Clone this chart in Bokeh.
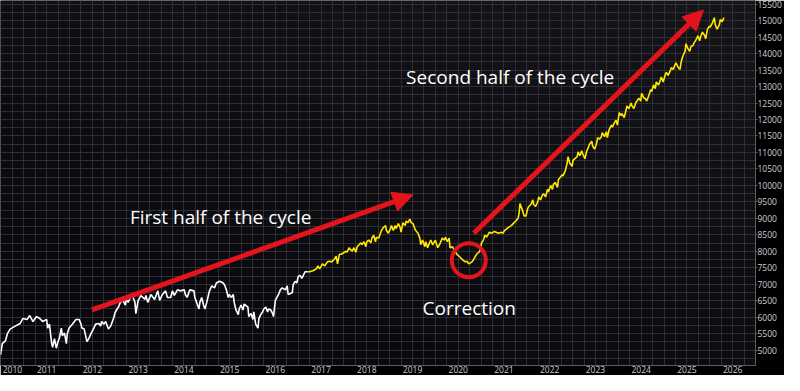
import numpy as np
from bokeh.plotting import figure
from bokeh.models import FixedTicker, Arrow, NormalHead, Label, Range1d
from bokeh.embed import file_html
from bokeh.resources import INLINE

# ---- data ----
white_year = [2009.99, 2010.03, 2010.10, 2010.14, 2010.20, 2010.31, 2010.42, 2010.48, 2010.57, 2010.63,
              2010.70, 2010.78, 2010.85, 2010.91, 2011.00, 2011.02, 2011.06, 2011.11, 2011.13, 2011.17,
              2011.21, 2011.24, 2011.28, 2011.32, 2011.34, 2011.39, 2011.43, 2011.45, 2011.49, 2011.56,
              2011.64, 2011.71, 2011.75, 2011.77, 2011.82, 2011.88, 2011.92, 2011.97, 2012.03, 2012.07,
              2012.14, 2012.18, 2012.20, 2012.25, 2012.29, 2012.31, 2012.35, 2012.40, 2012.46, 2012.50,
              2012.57, 2012.61, 2012.67, 2012.72, 2012.74, 2012.78, 2012.85, 2012.89, 2012.93, 2012.95,
              2013.00, 2013.04, 2013.06, 2013.15, 2013.17, 2013.21, 2013.28, 2013.36, 2013.43, 2013.47,
              2013.53, 2013.60, 2013.64, 2013.71, 2013.75, 2013.79, 2013.86, 2013.92, 2014.01, 2014.03,
              2014.07, 2014.13, 2014.22, 2014.24, 2014.33, 2014.35, 2014.39, 2014.43, 2014.46, 2014.50,
              2014.54, 2014.56, 2014.61, 2014.67, 2014.71, 2014.78, 2014.86, 2014.89, 2014.93, 2014.97,
              2014.99, 2015.04, 2015.08, 2015.10, 2015.14, 2015.19, 2015.21, 2015.25, 2015.29, 2015.32,
              2015.40, 2015.42, 2015.47, 2015.51, 2015.53, 2015.57, 2015.62, 2015.64, 2015.68, 2015.72,
              2015.75, 2015.79, 2015.83, 2015.85, 2015.90, 2015.94, 2015.96, 2016.00, 2016.07, 2016.11,
              2016.15, 2016.22, 2016.26, 2016.28, 2016.37, 2016.39, 2016.43, 2016.47, 2016.50, 2016.54,
              2016.58, 2016.65, 2016.71]
white_value = [4860, 5200, 5290, 5500, 5640, 5730, 5810, 5960, 5930, 6050,
               5870, 6020, 5960, 5870, 5930, 5670, 5790, 5200, 5090, 5350,
               5060, 5230, 5380, 5670, 5440, 5520, 5200, 5500, 5670, 5790,
               5930, 5930, 5790, 5670, 5640, 5260, 5350, 5500, 5670, 5790,
               5810, 5730, 5870, 5790, 5870, 5790, 5640, 5730, 5960, 6160,
               6310, 6450, 6510, 6370, 6540, 6450, 6660, 6600, 6450, 6110,
               6510, 6600, 6660, 6540, 6660, 6450, 6690, 6540, 6800, 6510,
               6690, 6800, 6600, 6600, 6800, 6660, 6830, 6800, 6830, 6690,
               6600, 6830, 6800, 6600, 6250, 6450, 6600, 6370, 6250, 6450,
               6690, 6800, 6950, 6890, 7040, 7090, 7040, 6980, 6830, 6600,
               6690, 6600, 6690, 6450, 6220, 6080, 6250, 6370, 6220, 6400,
               6310, 6020, 6110, 5930, 6160, 5790, 5670, 5960, 6080, 6160,
               6250, 6310, 6160, 6250, 6220, 6110, 6020, 6510, 6690, 6830,
               6890, 6830, 6950, 6690, 6740, 6980, 7090, 7040, 7240, 7270,
               7180, 7380, 7380]

yellow_year = [2016.71, 2016.75, 2016.82, 2016.90, 2016.93, 2016.97, 2017.03, 2017.08, 2017.14, 2017.18,
               2017.23, 2017.29, 2017.33, 2017.36, 2017.40, 2017.44, 2017.51, 2017.55, 2017.57, 2017.61,
               2017.68, 2017.72, 2017.76, 2017.79, 2017.87, 2017.89, 2017.94, 2017.98, 2018.00, 2018.04,
               2018.09, 2018.11, 2018.15, 2018.19, 2018.21, 2018.26, 2018.32, 2018.36, 2018.41, 2018.43,
               2018.47, 2018.52, 2018.54, 2018.58, 2018.62, 2018.64, 2018.69, 2018.73, 2018.75, 2018.79,
               2018.84, 2018.86, 2018.90, 2018.94, 2018.97, 2019.01, 2019.05, 2019.07, 2019.12, 2019.16,
               2019.18, 2019.22, 2019.27, 2019.29, 2019.33, 2019.37, 2019.40, 2019.44, 2019.50, 2019.55,
               2019.59, 2019.65, 2019.70, 2019.72, 2019.76, 2019.80, 2019.82, 2019.87, 2019.93, 2019.97,
               2020.02, 2020.08, 2020.15, 2020.19, 2020.23, 2020.30, 2020.34, 2020.40, 2020.47, 2020.51,
               2020.55, 2020.58, 2020.62, 2020.68, 2020.73, 2020.79, 2020.88, 2020.94, 2020.98, 2021.01,
               2021.09, 2021.16, 2021.20, 2021.26, 2021.31, 2021.33, 2021.35, 2021.41, 2021.44, 2021.48,
               2021.52, 2021.54, 2021.59, 2021.63, 2021.65, 2021.69, 2021.74, 2021.76, 2021.80, 2021.84,
               2021.87, 2021.91, 2021.95, 2021.97, 2022.02, 2022.06, 2022.08, 2022.12, 2022.17, 2022.19,
               2022.27, 2022.29, 2022.34, 2022.38, 2022.40, 2022.44, 2022.49, 2022.51, 2022.55, 2022.60,
               2022.62, 2022.66, 2022.70, 2022.72, 2022.77, 2022.81, 2022.83, 2022.87, 2022.92, 2022.94,
               2022.98, 2023.02, 2023.05, 2023.09, 2023.13, 2023.15, 2023.20, 2023.24, 2023.26, 2023.30,
               2023.35, 2023.37, 2023.41, 2023.45, 2023.48, 2023.52, 2023.56, 2023.58, 2023.63, 2023.69,
               2023.73, 2023.78, 2023.80, 2023.84, 2023.88, 2023.95, 2023.99, 2024.01, 2024.06, 2024.10,
               2024.12, 2024.16, 2024.21, 2024.23, 2024.27, 2024.31, 2024.33, 2024.38, 2024.42, 2024.44,
               2024.48, 2024.53, 2024.55, 2024.59, 2024.64, 2024.66, 2024.70, 2024.74, 2024.76, 2024.81,
               2024.85, 2024.87, 2024.91, 2024.96, 2024.98, 2025.02, 2025.06, 2025.09, 2025.13, 2025.17,
               2025.19, 2025.24, 2025.28, 2025.30, 2025.34, 2025.39, 2025.41, 2025.45, 2025.49, 2025.51,
               2025.56, 2025.60, 2025.62, 2025.66, 2025.71, 2025.73, 2025.77, 2025.81]
yellow_value = [7380, 7380, 7410, 7470, 7560, 7470, 7620, 7560, 7680, 7700,
                7680, 7760, 7850, 7620, 7910, 7910, 7970, 8000, 7970, 8110,
                8000, 8110, 7970, 8140, 8260, 8200, 8290, 8140, 8290, 8340,
                8260, 8400, 8490, 8290, 8430, 8400, 8630, 8720, 8780, 8630,
                8550, 8690, 8780, 8630, 8780, 8690, 8840, 8720, 8580, 8870,
                8780, 8920, 8870, 8980, 8870, 8840, 8690, 8630, 8550, 8400,
                8200, 8340, 8140, 8290, 8110, 8260, 8340, 8200, 8340, 8110,
                8200, 8400, 8340, 8430, 8290, 8400, 8110, 8140, 8000, 7910,
                7850, 7760, 7680, 7700, 7620, 7680, 7760, 7910, 8000, 8260,
                8340, 8490, 8430, 8580, 8550, 8600, 8550, 8580, 8550, 8630,
                8720, 8780, 8840, 8920, 9010, 9160, 9450, 9220, 9070, 9070,
                9300, 9360, 9420, 9560, 9420, 9360, 9510, 9650, 9560, 9710,
                9740, 9650, 9880, 9800, 10000, 9880, 10030, 10090, 9940, 10170,
                10320, 10290, 10440, 10670, 10870, 10670, 10580, 10760, 10810, 10870,
                11020, 10900, 11050, 10960, 10810, 11050, 11100, 11250, 11340, 11190,
                11100, 11250, 11450, 11400, 11480, 11600, 11480, 11630, 11450, 11690,
                11830, 11770, 11890, 11980, 11830, 12210, 12120, 12180, 12060, 12410,
                12330, 12500, 12410, 12330, 12500, 12650, 12560, 12790, 12650, 12620,
                12560, 12700, 12910, 12850, 13050, 12940, 13140, 13050, 13200, 13290,
                13140, 13370, 13430, 13340, 13490, 13580, 13520, 13660, 13720, 13580,
                13520, 13720, 13920, 14070, 14300, 14160, 14070, 14220, 14240, 14360,
                14390, 14540, 14390, 14510, 14650, 14540, 14450, 14740, 14830, 14800,
                14940, 15090, 14880, 14740, 14880, 15030, 14970, 15090]

# x tick positions and their labels (first label sits a little inside the left edge)
x_tick_positions = [2010.25, 2011, 2012, 2013, 2014, 2015, 2016, 2017, 2018, 2019, 2020,
                    2021, 2022, 2023, 2024, 2025, 2026]
x_tick_labels = ["2010", "2011", "2012", "2013", "2014", "2015", "2016", "2017", "2018", "2019",
                 "2020", "2021", "2022", "2023", "2024", "2025", "2026"]
y_tick_values = [5000, 5500, 6000, 6500, 7000, 7500, 8000, 8500, 9000, 9500, 10000,
                 10500, 11000, 11500, 12000, 12500, 13000, 13500, 14000, 14500, 15000, 15500]

# annotations
ann_first = "First half of the cycle"
ann_second = "Second half of the cycle"
ann_corr = "Correction"

X0, X1 = 2009.99, 2026.50
Y0, Y1 = 4535, 15611
RED = "#e3141c"
FONT = "Open Sans"

p = figure(width=784, height=375, x_range=Range1d(X0, X1), y_range=Range1d(Y0, Y1),
           y_axis_location="right", output_backend="svg", toolbar_location=None,
           background_fill_color="#0c0c10", border_fill_color="#000000",
           outline_line_color=None, min_border=0, min_border_left=0, min_border_top=0,
           min_border_right=0, min_border_bottom=0)

# background gradient (styling only)
H, W = 120, 240
w = np.linspace(0, 1, H)[:, None]   # bottom->top
u = np.linspace(0, 1, W)[None, :]   # left->right
lum = 7 + 15 * (0.6 * w + 0.4 * u)
r = np.clip(lum, 0, 255).astype(np.uint32)
g = r
b = np.clip(lum + 4, 0, 255).astype(np.uint32)
img = (255 << 24) | (b << 16) | (g << 8) | r
img = img.astype(np.uint32)
p.image_rgba(image=[img], x=X0, y=Y0, dw=X1 - X0, dh=Y1 - Y0, level="image")

# grid
quarters = [2010 + 0.25 * i for i in range(0, 67)]
halves = list(range(4750, 15751, 250))
p.xgrid.ticker = FixedTicker(ticks=quarters)
p.ygrid.ticker = FixedTicker(ticks=halves)
for gr in (p.xgrid, p.ygrid):
    gr.grid_line_color = "#34343a"
    gr.grid_line_width = 1
    gr.grid_line_alpha = 0.85

# axes
p.yaxis.ticker = FixedTicker(ticks=y_tick_values)
p.xaxis.ticker = FixedTicker(ticks=x_tick_positions)
p.xaxis.major_label_overrides = {pos: lab for pos, lab in zip(x_tick_positions, x_tick_labels)}
for ax in (p.xaxis, p.yaxis):
    ax.axis_line_color = "#5e5e5e"
    ax.major_tick_line_color = "#5e5e5e"
    ax.major_tick_out = 2
    ax.major_tick_in = 0
    ax.minor_tick_out = 0
    ax.minor_tick_in = 0
    ax.major_label_text_color = "#cfcfcf"
    ax.major_label_text_font = FONT
    ax.major_label_text_font_size = "8.5px"
    ax.major_label_text_line_height = 0.9
    ax.major_label_standoff = 0
    ax.axis_label_standoff = 0
    ax.axis_label_text_font_size = "0px"
p.xaxis.major_tick_line_color = None
p.xaxis.major_tick_out = 0

# series
p.line(white_year, white_value, line_color="#ffffff", line_width=1.6)
p.line(yellow_year, yellow_value, line_color="#ffe800", line_width=1.6)

# correction circle
p.scatter([2020.23], [7730], marker="circle", size=34, fill_alpha=0,
          line_color=RED, line_width=4)

# arrows
p.add_layout(Arrow(end=NormalHead(size=20, fill_color=RED, line_color=RED),
                   x_start=2011.99, y_start=6220, x_end=2019.01, y_end=9710,
                   line_color=RED, line_width=5))
p.add_layout(Arrow(end=NormalHead(size=20, fill_color=RED, line_color=RED),
                   x_start=2020.34, y_start=8550, x_end=2025.36, y_end=15320,
                   line_color=RED, line_width=5))

# texts
for txt, x, y in ((ann_first, 2012.82, 9041), (ann_second, 2018.86, 13285), (ann_corr, 2019.22, 6280)):
    p.add_layout(Label(x=x, y=y, text=txt, text_color="#ffffff", text_font=FONT,
                       text_font_size="19px", text_baseline="alphabetic"))

open("out.html", "w").write(file_html(p, INLINE))
